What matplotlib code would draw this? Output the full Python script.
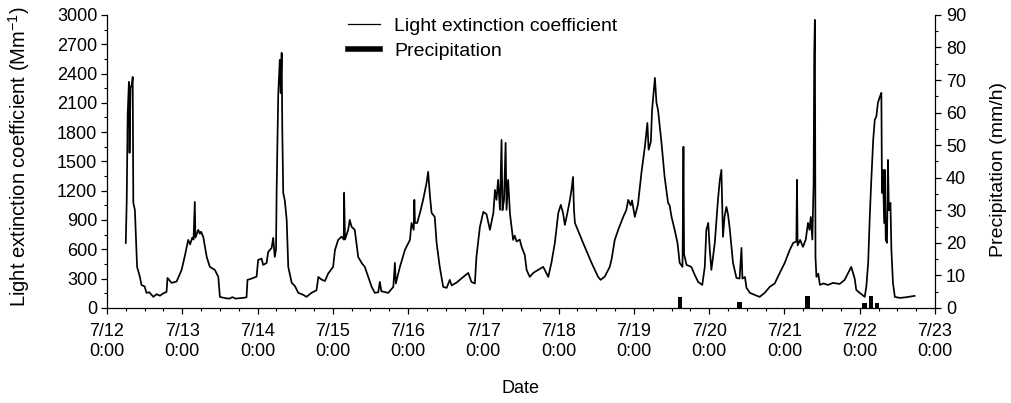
import matplotlib
matplotlib.use("Agg")
import matplotlib.pyplot as plt
from matplotlib.lines import Line2D
from matplotlib.ticker import MultipleLocator

plt.rcParams['font.family'] = ['Liberation Sans', 'DejaVu Sans']
plt.rcParams['mathtext.fontset'] = 'custom'
plt.rcParams['mathtext.rm'] = 'Liberation Sans'

# hours since 7/12 0:00
ext_hours = [6.0, 6.3, 6.6, 7.0, 7.2, 7.5, 8.0, 8.2, 8.4, 8.9, 9.6, 10.5, 11.0, 12.0, 12.6, 13.5, 14.8, 15.8,
             16.9, 18.0, 19.0, 19.3, 20.6, 22.2, 23.0, 23.8, 24.9, 25.9, 26.5, 27.2, 27.6, 28.0, 28.2, 29.1,
             29.6, 30.0, 30.7, 31.8, 32.8, 34.4, 35.5, 36.0, 37.6, 39.0, 40.0, 41.0, 42.5, 44.0, 44.5, 44.8,
             46.1, 47.7, 48.2, 49.3, 49.8, 50.9, 51.4, 52.5, 53.0, 53.5, 53.9, 54.1, 54.6, 55.1, 55.4, 55.7,
             55.9, 56.2, 56.7, 57.3, 57.8, 58.9, 59.9, 61.0, 62.6, 63.6, 65.2, 66.8, 67.4, 68.4, 69.5, 70.5,
             72.1, 72.7, 73.7, 74.8, 75.5, 75.6, 75.9, 76.9, 77.4, 78.0, 79.0, 80.1, 81.2, 82.2, 83.3, 84.4,
             85.4, 86.5, 87.0, 87.5, 89.7, 91.3, 91.8, 92.1, 93.4, 95.0, 96.6, 97.1, 97.8, 98.0, 98.2, 98.9,
             99.8, 100.8, 101.9, 102.4, 103.0, 103.5, 104.5, 105.1, 106.1, 107.2, 108.3, 109.3, 109.9, 111.5,
             113.6, 115.2, 116.2, 117.3, 117.8, 118.9, 120.0, 121.0, 122.1, 123.2, 123.7, 124.2, 124.7, 125.3,
             125.8, 126.1, 126.6, 127.1, 127.4, 127.9, 128.5, 129.0, 129.5, 130.0, 130.6, 131.6, 132.2, 133.2,
             133.8, 134.8, 135.9, 137.5, 139.1, 140.7, 141.7, 142.8, 143.9, 144.7, 145.4, 146.0, 146.8, 147.6,
             148.1, 148.6, 148.9, 149.2, 151.8, 154.5, 156.6, 157.4, 158.7, 160.3, 160.9, 161.9, 163.0, 164.6,
             165.6, 166.2, 167.0, 167.4, 168.3, 169.3, 170.4, 171.5, 172.3, 172.7, 173.4, 173.8, 174.7, 175.2,
             175.7, 176.8, 177.8, 178.9, 179.4, 180.0, 181.0, 181.9, 182.6, 183.5, 183.8, 184.0, 184.8, 186.3,
             187.4, 188.5, 189.8, 190.6, 191.1, 191.7, 192.2, 192.7, 193.8, 194.8, 195.4, 195.9, 196.4, 196.9,
             197.5, 198.0, 198.6, 199.1, 199.6, 200.7, 201.7, 202.3, 202.6, 203.4, 203.9, 205.0, 206.5, 208.1,
             209.7, 211.3, 212.9, 214.5, 216.1, 217.7, 218.8, 219.8, 220.0, 220.2, 221.0, 221.9, 222.8, 223.5,
             224.0, 224.4, 224.9, 225.3, 225.5, 225.7, 225.9, 226.2, 226.8, 227.3, 228.4, 229.9, 231.5, 233.6,
             235.2, 236.3, 237.3, 238.4, 238.9, 240.0, 241.6, 242.1, 242.7, 243.2, 243.7, 244.3, 244.8, 245.3,
             245.8, 246.4, 246.9, 247.1, 247.4, 247.8, 248.0, 248.3, 248.7, 249.0, 249.3, 249.8, 250.1, 250.6,
             251.2, 252.8, 255.0, 257.5]
ext_values = [665, 1106, 1976, 2314, 1587, 2250, 2300, 2365, 1075, 1004, 420, 317, 235, 220, 154, 160, 113, 140,
              125, 150, 164, 307, 256, 270, 330, 389, 543, 696, 650, 720, 700, 1085, 720, 799,
              760, 780, 727, 522, 420, 389, 317, 113, 100, 95, 110, 95, 100, 105, 110, 287,
              300, 320, 491, 505, 440, 460, 573, 614, 717, 522, 600, 1208, 2181, 2540, 2200, 2611,
              1823, 1178, 1100, 901, 420, 256, 225, 154, 133, 113, 154, 180, 317, 290, 275, 350,
              420, 594, 696, 730, 700, 1178, 700, 798, 901, 830, 800, 522, 460, 420, 317, 215,
              154, 160, 266, 170, 154, 215, 461, 250, 420, 594, 696, 870, 800, 1106, 870, 870,
              973, 1106, 1280, 1393, 1137, 973, 932, 666, 420, 215, 205, 287, 230, 260,
              317, 358, 266, 250, 522, 829, 983, 960, 799, 973, 1208, 1106, 1311, 1004,
              1720, 1000, 1106, 1690, 1004, 1311, 960, 829, 696, 740, 680, 700, 625, 543,
              389, 317, 358, 390, 420, 317, 461, 666, 973, 1055, 973, 850, 973, 1106,
              1208, 1341, 1004, 870, 666, 461, 317, 287, 320, 420, 500, 696, 799, 932,
              1004, 1106, 1050, 1100, 932, 1060, 1382, 1650, 1894, 1620, 1700, 2027, 2355, 2100,
              2027, 1690, 1341, 1075, 1050, 932, 799, 666, 461, 420, 1650, 550, 440, 420,
              338, 266, 235, 420, 799, 870, 594, 389, 666, 1106, 1311, 1413, 727, 932,
              1034, 960, 799, 625, 461, 307, 300, 614, 300, 317, 205, 154, 133, 113,
              154, 215, 250, 358, 461, 594, 666, 680, 1311, 640, 696, 625, 700, 870,
              799, 932, 700, 1280, 2611, 2949, 522, 317, 350, 235, 250, 235, 256, 245,
              287, 358, 420, 300, 184, 154, 113, 215, 461, 932, 1311, 1720, 1925, 1960,
              2099, 2160, 2202, 1178, 1413, 870, 1413, 696, 666, 1515, 1000, 1075, 594, 256,
              113, 102, 110, 123]

precip_hours = [182.7, 201.7, 223.4, 241.5, 243.6, 245.6]
precip_values = [3.3, 1.7, 3.8, 1.4, 3.8, 1.4]

day_ticks = [0, 24, 48, 72, 96, 120, 144, 168, 192, 216, 240, 264]
day_labels = ['7/12\n0:00', '7/13\n0:00', '7/14\n0:00', '7/15\n0:00', '7/16\n0:00', '7/17\n0:00',
              '7/18\n0:00', '7/19\n0:00', '7/20\n0:00', '7/21\n0:00', '7/22\n0:00', '7/23\n0:00']

fig = plt.figure(figsize=(10.12, 4.03), dpi=100)
ax = fig.add_axes([0.1057, 0.236, 0.8182, 0.727])
ax2 = ax.twinx()

ax.plot(ext_hours, ext_values, color='black', lw=1.25)
ax2.bar(precip_hours, precip_values, width=1.4, color='black')

ax.set_xlim(0, 264)
ax.set_ylim(0, 3000)
ax2.set_ylim(0, 90)

ax.set_xticks(day_ticks)
ax.set_xticklabels(day_labels, linespacing=1.25)
ax.xaxis.set_minor_locator(MultipleLocator(6))
ax.yaxis.set_major_locator(MultipleLocator(300))
ax.yaxis.set_minor_locator(MultipleLocator(150))
ax2.yaxis.set_major_locator(MultipleLocator(10))
ax2.yaxis.set_minor_locator(MultipleLocator(5))

for a in (ax, ax2):
    a.spines['top'].set_visible(False)
    for s in a.spines.values():
        s.set_linewidth(0.9)
ax.spines['right'].set_visible(False)
ax2.spines['left'].set_visible(False)
ax2.spines['bottom'].set_visible(False)

ax.tick_params(axis='both', which='major', direction='out', length=4, width=0.9, labelsize=13)
ax.tick_params(axis='both', which='minor', direction='out', length=2.5, width=0.8)
ax2.tick_params(axis='y', which='major', direction='out', length=4, width=0.9, labelsize=13)
ax2.tick_params(axis='y', which='minor', direction='out', length=2.5, width=0.8)
ax.tick_params(axis='x', which='major', pad=7)
ax.tick_params(axis='y', which='major', pad=3)
ax2.tick_params(axis='y', which='major', pad=4)

ax.set_ylabel(r'Light extinction coefficient (Mm$^{\mathregular{-1}}$)', fontsize=14.5)
ax.yaxis.set_label_coords(-0.091, 0.515)
ax2.set_ylabel('Precipitation (mm/h)', fontsize=14)
ax2.yaxis.set_label_coords(1.066, 0.471)
ax.set_xlabel('Date', fontsize=13, labelpad=14)

handles = [Line2D([], [], color='black', lw=0.9), Line2D([], [], color='black', lw=4)]
fig.legend(handles, ['Light extinction coefficient', 'Precipitation'], loc='upper left',
           bbox_to_anchor=(0.327, 1.0), frameon=False, fontsize=14, handlelength=1.6,
           handletextpad=0.75, labelspacing=0.35)

fig.savefig('out.png', dpi=100)
